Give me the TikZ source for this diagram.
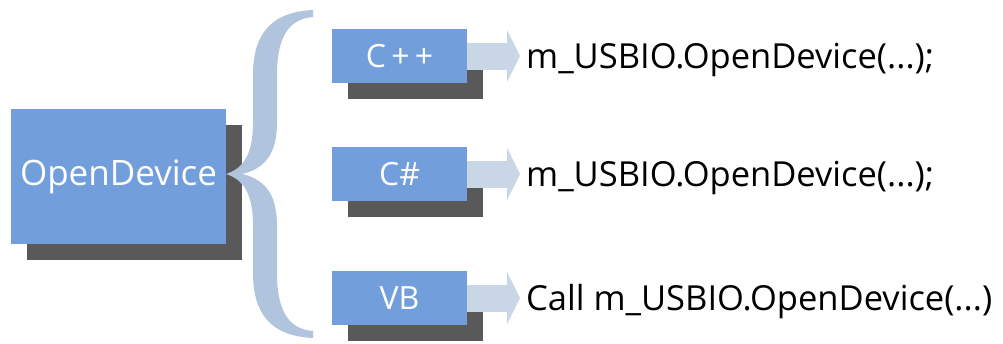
\documentclass[tikz,border=0pt]{standalone}
\usepackage{fontspec}
\setmainfont{Open Sans}
\usetikzlibrary{arrows.meta,shadows}

\definecolor{boxblue}{RGB}{114,159,220}
\definecolor{shadowgray}{RGB}{89,89,89}
\definecolor{bracegray}{RGB}{176,196,222}
\definecolor{arrowgray}{RGB}{200,214,230}

\begin{document}
\begin{tikzpicture}[
        x=1pt,
        y=-1pt,
        langbox/.style={fill=boxblue, text=white, minimum width=135pt, minimum height=54pt,
          inner sep=0pt, font=\fontsize{32}{38}\selectfont,
          drop shadow={shadow xshift=16pt, shadow yshift=-16pt, fill=shadowgray, opacity=1}},
        codetext/.style={anchor=west, inner sep=6pt, text height=25pt, text depth=0pt,
          font=\fontsize{34.5}{41}\selectfont},
        blockarrow/.style={arrowgray, line width=27pt,
          -{Triangle[length=13pt, width=52pt]}}
      ]
      \useasboundingbox (0,0) rectangle (1003,343);

      % --- 1. 左の箱 ---
      \node[langbox, minimum width=215pt, minimum height=135pt,
        font=\fontsize{35}{42}\selectfont] (open) at (118.5,176.5) {OpenDevice};

      % --- 2. 中括弧 ---
      \fill[bracegray] (313,10) .. controls (270,12) and (253,35) .. (253,75)
      -- (253,122) .. controls (253,152) and (245,168) .. (226,174)
      .. controls (245,180) and (253,196) .. (253,226) -- (253,273)
      .. controls (253,313) and (270,336) .. (313,338)
      -- (313,331) .. controls (288,329) and (277,310) .. (277,273)
      -- (277,226) .. controls (277,198) and (268,180) .. (242,174)
      .. controls (268,168) and (277,150) .. (277,122) -- (277,75)
      .. controls (277,38) and (288,19) .. (313,17) -- cycle;

      % --- 3. 言語ごとの箱 ---
      \node[langbox] (cpp) at (399.5,56) {C\,+\,+};
      \node[langbox] (cs) at (399.5,174) {C\#};
      \node[langbox] (vb) at (399.5,298) {VB};

      % --- 4. 呼び出しコード ---
      \node[codetext] (cpptxt) at (520,56) {m\_USBIO.OpenDevice(...);};
      \node[codetext] (cstxt) at (520,174) {m\_USBIO.OpenDevice(...);};
      \node[codetext] (vbtxt) at (520,298) {Call m\_USBIO.OpenDevice(...)};

      % --- 5. 矢印 ---
      \draw[blockarrow] (cpp.east) -- (cpptxt.west);
      \draw[blockarrow] (cs.east) -- (cstxt.west);
      \draw[blockarrow] (vb.east) -- (vbtxt.west);

    \end{tikzpicture}
\end{document}
